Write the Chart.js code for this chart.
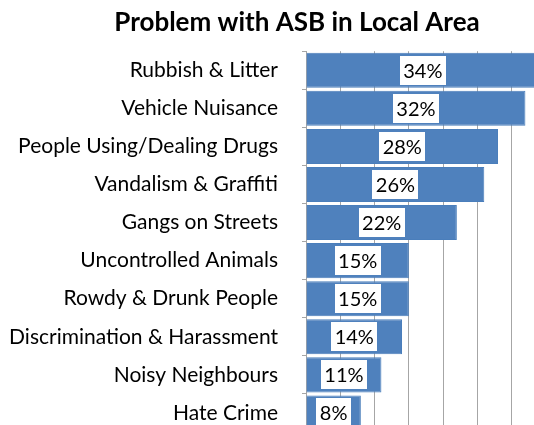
<!DOCTYPE html>
<html>
<head>
<meta charset="utf-8">
<script src="https://cdn.jsdelivr.net/npm/chart.js@4"></script>
<style>
  html, body { margin: 0; padding: 0; background: #fff; overflow: hidden; }
  canvas { display: block; }
</style>
</head>
<body>
<canvas id="asbChart" width="594" height="432"></canvas>
<script>
const categories = ['Rubbish & Litter', 'Vehicle Nuisance', 'People Using/Dealing Drugs', 'Vandalism & Graffiti',
  'Gangs on Streets', 'Uncontrolled Animals', 'Rowdy & Drunk People', 'Discrimination & Harassment',
  'Noisy Neighbours', 'Hate Crime'];
const percentages = [34, 32, 28, 26, 22, 15, 15, 14, 11, 8];
const xTicks = [0, 5, 10, 15, 20, 25, 30, 35, 40];

// white boxed value labels in the middle of each bar, like excel
const boxLabels = {
  id: 'boxLabels',
  afterDatasetsDraw(chart) {
    const ctx = chart.ctx;
    const meta = chart.getDatasetMeta(0);
    ctx.save();
    ctx.font = '20px Lato';
    ctx.textAlign = 'center';
    ctx.textBaseline = 'middle';
    meta.data.forEach((bar, i) => {
      const txt = percentages[i] + '%';
      const cx = (bar.x + bar.base) / 2;
      const w = ctx.measureText(txt).width + 7;
      const h = 29;
      ctx.fillStyle = '#fff';
      ctx.fillRect(Math.round(cx - w / 2), Math.round(bar.y - h / 2), Math.round(w), h);
      ctx.fillStyle = '#000';
      ctx.fillText(txt, cx, bar.y + 1);
    });
    ctx.restore();
  }
};

new Chart(document.getElementById('asbChart'), {
  type: 'bar',
  data: {
    labels: categories,
    datasets: [{
      data: percentages,
      backgroundColor: '#4F81BD',
      borderColor: '#4A7EBB',
      borderWidth: 1,
      barPercentage: 0.92,
      categoryPercentage: 1
    }]
  },
  options: {
    indexAxis: 'y',
    responsive: false,
    animation: false,
    layout: { padding: 0 },
    plugins: {
      legend: { display: false },
      tooltip: { enabled: false },
      title: {
        display: true,
        text: 'Problem with ASB in Local Area',
        color: '#000',
        font: { family: 'Lato', size: 26, weight: 'bold' },
        padding: { top: 7, bottom: 13 }
      }
    },
    scales: {
      x: {
        min: 0,
        max: 42,
        afterBuildTicks: s => { s.ticks = xTicks.map(v => ({ value: v })); },
        afterFit: s => { s.height = 0; },
        ticks: { display: false },
        grid: { color: '#A6A6A6', drawTicks: false },
        border: { display: false }
      },
      y: {
        afterFit: s => { s.width = 306; s.paddingTop = 0; s.paddingBottom = 0; },
        ticks: { color: '#000', font: { family: 'Lato', size: 21 }, padding: 24 },
        grid: { drawOnChartArea: false, color: '#A6A6A6', tickLength: 4 },
        border: { display: true, color: '#A6A6A6' }
      }
    }
  },
  plugins: [boxLabels]
});
</script>
</body>
</html>
